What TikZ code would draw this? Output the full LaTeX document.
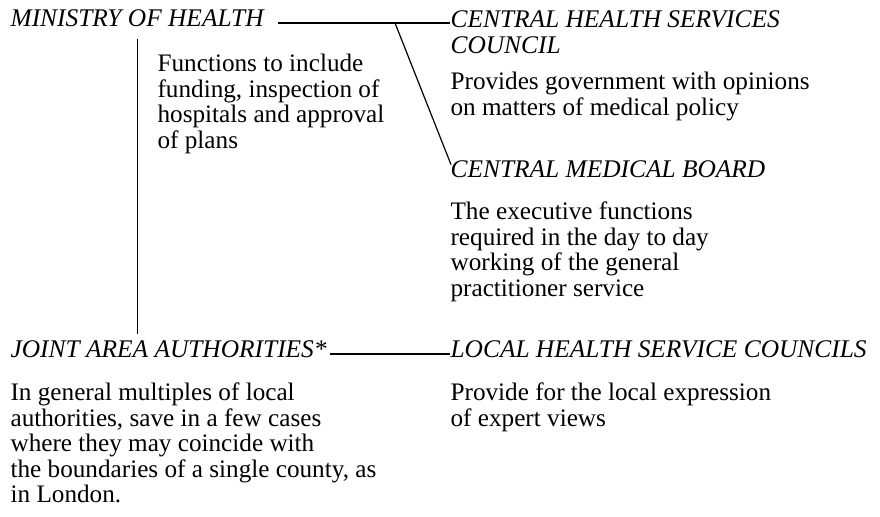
\documentclass[tikz,border=0pt]{standalone}
\usepackage{fontspec}
\setmainfont{Liberation Serif}
\usetikzlibrary{positioning}

\begin{document}
\begin{tikzpicture}[x=0.5pt,y=-0.5pt,semithick,
head node/.style={font=\fontsize{12.7}{12.75}\selectfont\itshape,inner sep=0pt,anchor=base west,align=left},
text node/.style={font=\fontsize{12.6}{12.75}\selectfont,inner sep=0pt,align=left}]
\useasboundingbox (0,0) rectangle (880,517);

% headings (multi-line nodes sit on their last line)
\node[head node] (min) at (10,27) {MINISTRY OF HEALTH};
\node[head node] (chsc) at (450,53.5) {CENTRAL HEALTH SERVICES\\COUNCIL};
\node[head node] (cmb) at (450,178) {CENTRAL MEDICAL BOARD};
\node[head node] (jaa) at (10,358) {JOINT AREA AUTHORITIES*};
\node[head node] (lhsc) at (450,358) {LOCAL HEALTH SERVICE COUNCILS};

% what each one does
\node[text node] (minfn) [below right=60.75pt and 73.5pt of min.base west,anchor=base west]
  {Functions to include\\funding, inspection of\\hospitals and approval\\of plans};
\node[text node] (chscfn) [below=31pt of chsc.base west,anchor=base west]
  {Provides government with opinions\\on matters of medical policy};
\node[text node] (cmbfn) [below=59.25pt of cmb.base west,anchor=base west]
  {The executive functions\\required in the day to day\\working of the general\\practitioner service};
\node[text node] (jaafn) [below=72.5pt of jaa.base west,anchor=base west]
  {In general multiples of local\\authorities, save in a few cases\\where they may coincide with\\the boundaries of a single county, as\\in London.};
\node[text node] (lhscfn) [below=34.25pt of lhsc.base west,anchor=base west]
  {Provide for the local expression\\of expert views};

\coordinate (l1) at ([xshift=7pt,yshift=2pt]min.base east);
\coordinate (l2) at ([xshift=1.5pt,yshift=2pt]jaa.base east);
\coordinate (split) at (395,23);

\draw (l1) -- (chsc.west |- l1);
\draw (split) -- ([xshift=0.5pt,yshift=-2pt]cmb.north west);
\draw ([yshift=-5.5pt]min.south) -- ([yshift=3.5pt]min.south |- jaa.north);
\draw (l2) -- (lhsc.west |- l2);
\end{tikzpicture}
\end{document}
